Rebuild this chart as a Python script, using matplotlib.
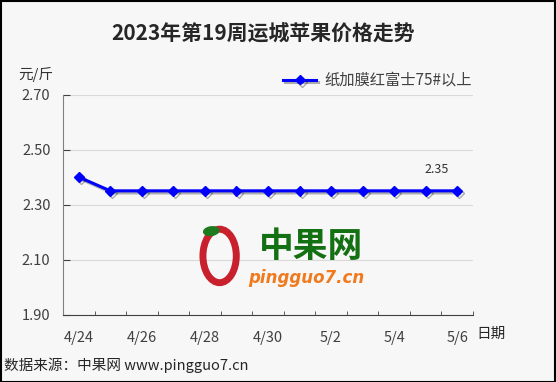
import matplotlib
matplotlib.use('Agg')
import matplotlib.pyplot as plt
import matplotlib.patheffects as pe
from matplotlib.patches import Ellipse, Rectangle

plt.rcParams['font.family'] = ['Noto Sans CJK SC', 'DejaVu Sans']

# --- dados ---
datas = ['4/24', '4/25', '4/26', '4/27', '4/28', '4/29', '4/30',
         '5/1', '5/2', '5/3', '5/4', '5/5', '5/6']
precos = [2.40, 2.35, 2.35, 2.35, 2.35, 2.35, 2.35,
          2.35, 2.35, 2.35, 2.35, 2.35, 2.35]
serie = '纸加膜红富士75#以上'
titulo = '2023年第19周运城苹果价格走势'
y_ticks = [1.90, 2.10, 2.30, 2.50, 2.70]

fig = plt.figure(figsize=(5.56, 3.82), dpi=100, facecolor='#f7f7f7')
ax = fig.add_axes([0.1133, 0.1762, 0.7374, 0.5764])
ax.set_facecolor('#f7f7f7')

x = list(range(len(datas)))
ax.plot(x, precos, color='#0000ff', linewidth=2.2, marker='D', markersize=5,
        path_effects=[pe.SimpleLineShadow(offset=(1.5, -1.5), alpha=0.3), pe.Normal()],
        label=serie, zorder=5)

ax.set_xlim(-0.5, len(datas) - 0.5)
ax.set_ylim(1.90, 2.70)
ax.set_yticks(y_ticks)
ax.set_yticklabels([f'{v:.2f}' for v in y_ticks])
ax.grid(axis='y', color='#d9d9d9', linewidth=0.8)
ax.set_axisbelow(True)

ax.set_xticks(x[::2])
ax.set_xticklabels(datas[::2])
ax.set_xticks([i - 0.5 for i in range(len(datas) + 1)], minor=True)
ax.tick_params(axis='x', which='major', length=0, pad=12, labelsize=10.5, labelcolor='#404040')
ax.tick_params(axis='x', which='minor', direction='in', length=3, color='#404040')
ax.tick_params(axis='y', direction='in', length=5, labelsize=10.5, labelcolor='#404040',
               color='#404040', pad=9)

for s in ['top', 'right']:
    ax.spines[s].set_visible(False)
ax.spines['left'].set_color('#808080')
ax.spines['bottom'].set_color('#404040')

# rótulo do último valor
ax.annotate(f'{precos[-1]:.2f}', (x[-1], precos[-1]), xytext=(-15, 13),
            textcoords='offset points', ha='center', fontsize=9, color='#303030')

fig.text(0.473, 0.912, titulo, ha='center', va='center', fontsize=15,
         fontweight='bold', color='#262626')
fig.text(0.032, 0.806, '元/斤', fontsize=10.5, color='#333333', va='center')
fig.text(0.857, 0.126, '日期', fontsize=10.5, color='#262626', va='center')
fig.text(0.008, 0.043, '数据来源：中果网 www.pingguo7.cn', fontsize=10.5, color='#262626', va='center')

leg = ax.legend(loc='upper right', bbox_to_anchor=(1.03, 1.165), frameon=False,
                fontsize=11, handlelength=2.2, handletextpad=0.5)
for t in leg.get_texts():
    t.set_color('#404040')

# marca d'água
fig.patches.append(Ellipse((0.395, 0.33), 0.06, 0.14, transform=fig.transFigure,
                           fill=False, edgecolor='#c8202c', linewidth=5, zorder=1))
fig.patches.append(Ellipse((0.38, 0.395), 0.028, 0.022, angle=20, transform=fig.transFigure,
                           color='#1e7a1e', zorder=1))
fig.text(0.56, 0.356, '中果网', ha='center', va='center', fontsize=25, fontweight='bold',
         color='#137013', zorder=1)
fig.text(0.55, 0.272, 'pingguo7.cn', ha='center', va='center', fontsize=12, fontweight='bold',
         style='italic', color='#f07a1e', family='DejaVu Sans', zorder=1)

fig.patches.append(Rectangle((0.001, 0.001), 0.997, 0.996, transform=fig.transFigure,
                             fill=False, edgecolor='black', linewidth=1.5))

fig.savefig('out.png', dpi=100, facecolor=fig.get_facecolor())
